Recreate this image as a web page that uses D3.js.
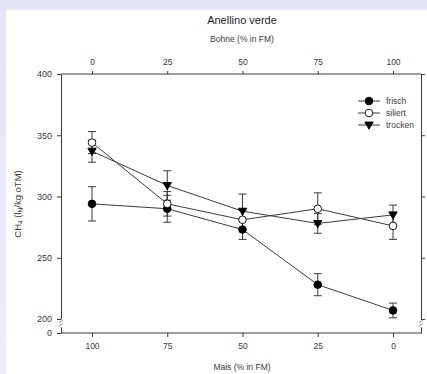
<!DOCTYPE html>
<html>
<head>
<meta charset="utf-8">
<script src="https://cdn.jsdelivr.net/npm/d3@7"></script>
<style>
  html, body { margin: 0; padding: 0; }
  body { width: 427px; height: 374px; overflow: hidden;
    background: linear-gradient(180deg, #e4e4fa 0%, #ececfb 100%); }
  svg { display: block; font-family: "Liberation Sans", Arial, sans-serif; }
</style>
</head>
<body>
<svg id="chart" width="427" height="374"></svg>
<script>
// Mais share (bottom axis) and Bohne share (top axis)
const maisShare = [100, 75, 50, 25, 0];
const bohneTicks = [0, 25, 50, 75, 100];
const yTicks = [200, 250, 300, 350, 400];

const frisch = [294, 290, 273, 228, 207];
const frischErr = [14, 11, 8, 9, 6];
const siliert = [344, 294, 281, 290, 276];
const siliertErr = [9, 10, 8, 13, 11];
const trocken = [337, 309, 288, 278, 285];
const trockenErr = [9, 12, 14, 8, 8];

const series = [
  { name: "frisch", values: frisch, err: frischErr, symbol: "circle", fill: "#000" },
  { name: "siliert", values: siliert, err: siliertErr, symbol: "circle", fill: "#fff" },
  { name: "trocken", values: trocken, err: trockenErr, symbol: "triangle", fill: "#000" },
];

const svg = d3.select("#chart");
const ink = "#3a3a3a";
const plotLeft = 61, plotRight = 421, plotTop = 74, plotBottom = 333;

svg.append("rect")
  .attr("x", 6).attr("y", 10)
  .attr("width", 427).attr("height", 374)
  .attr("fill", "#fff");

const x = d3.scaleLinear().domain([100, 0]).range([92, 393]);
const xTop = d3.scaleLinear().domain([0, 100]).range([92, 393]);
const y = d3.scaleLinear().domain([200, 400]).range([319, plotTop]);
// short segment below the axis break
const yLow = d3.scaleLinear().domain([0, 10]).range([plotBottom, plotBottom - 6]);

const styleAxis = (size) => (g) => {
  g.selectAll("path, line").attr("stroke", ink).attr("stroke-width", 1);
  g.selectAll("text").attr("fill", ink).attr("font-size", size)
    .attr("font-family", "Liberation Sans, Arial, sans-serif");
};

// frame lines
svg.append("line").attr("x1", plotLeft).attr("x2", plotRight)
  .attr("y1", plotBottom).attr("y2", plotBottom).attr("stroke", ink);
svg.append("line").attr("x1", plotLeft).attr("x2", plotRight)
  .attr("y1", plotTop).attr("y2", plotTop).attr("stroke", ink);

// bottom axis
svg.append("g").attr("transform", `translate(0,${plotBottom})`)
  .call(d3.axisBottom(x).tickValues(maisShare).tickSize(4).tickPadding(6))
  .call((g) => g.select(".domain").remove())
  .call(styleAxis(8.5));

// top axis
svg.append("g").attr("transform", `translate(0,${plotTop})`)
  .call(d3.axisTop(xTop).tickValues(bohneTicks).tickSize(3).tickPadding(6))
  .call((g) => g.select(".domain").remove())
  .call(styleAxis(8.5));

// left axis: upper part and lower part
svg.append("g").attr("transform", `translate(${plotLeft},0)`)
  .call(d3.axisLeft(y).tickValues(yTicks).tickSize(4).tickSizeOuter(0).tickPadding(5))
  .call(styleAxis(9));
svg.append("g").attr("transform", `translate(${plotLeft},0)`)
  .call(d3.axisLeft(yLow).tickValues([0]).tickSize(4).tickSizeOuter(0).tickPadding(5))
  .call(styleAxis(9));

// right axis
svg.append("g").attr("transform", `translate(${plotRight},0)`)
  .call(d3.axisRight(y).tickValues(yTicks).tickSize(4).tickSizeOuter(0).tickFormat(""))
  .call(styleAxis(9));
svg.append("g").attr("transform", `translate(${plotRight},0)`)
  .call(d3.axisRight(yLow).tickValues([0]).tickSize(0).tickSizeOuter(0).tickFormat(""))
  .call(styleAxis(9));

// axis break marks
[plotLeft, plotRight].forEach((bx) => {
  const g = svg.append("g");
  g.append("rect").attr("x", bx - 2).attr("y", 321).attr("width", 4).attr("height", 5)
    .attr("fill", "#fff");
  [0, 3].forEach((dy) => {
    g.append("line").attr("x1", bx - 2).attr("x2", bx + 2)
      .attr("y1", 322.5 + dy).attr("y2", 320.5 + dy)
      .attr("stroke", "#777").attr("stroke-width", 0.8);
  });
});

// lines
const line = d3.line().x((d, i) => x(maisShare[i])).y((d) => y(d));
series.forEach((s) => {
  svg.append("path").datum(s.values).attr("d", line)
    .attr("fill", "none").attr("stroke", ink).attr("stroke-width", 1);
});

// error bars
series.forEach((s) => {
  const g = svg.append("g");
  s.values.forEach((v, i) => {
    const cx = x(maisShare[i]);
    const y1 = y(v - s.err[i]), y2 = y(v + s.err[i]);
    g.append("line").attr("x1", cx).attr("x2", cx).attr("y1", y1).attr("y2", y2)
      .attr("stroke", ink);
    [y1, y2].forEach((cy) => {
      g.append("line").attr("x1", cx - 4).attr("x2", cx + 4).attr("y1", cy).attr("y2", cy)
        .attr("stroke", ink);
    });
  });
});

// markers
const symbolPath = (s) => s.symbol === "circle"
  ? d3.symbol(d3.symbolCircle, 46)()
  : "M-4.2,-3L4.2,-3L0,4.2Z";
series.forEach((s) => {
  svg.append("g").selectAll("path").data(s.values).join("path")
    .attr("d", symbolPath(s))
    .attr("transform", (d, i) => `translate(${x(maisShare[i])},${y(d)})`)
    .attr("fill", s.fill).attr("stroke", "#000").attr("stroke-width", 0.9);
});

// legend
const legend = svg.append("g").attr("transform", "translate(358,101)");
series.forEach((s, i) => {
  const g = legend.append("g").attr("transform", `translate(0,${i * 12})`);
  g.append("line").attr("x1", 0).attr("x2", 22).attr("stroke", ink);
  g.append("path").attr("d", symbolPath(s)).attr("transform", "translate(11,0)")
    .attr("fill", s.fill).attr("stroke", "#000").attr("stroke-width", 0.9);
  g.append("text").attr("x", 28).attr("dy", "0.35em").attr("font-size", 8.5)
    .attr("fill", ink).text(s.name);
});

// titles
svg.append("text").attr("x", 242).attr("y", 24).attr("text-anchor", "middle")
  .attr("font-size", 11).attr("fill", "#222").text("Anellino verde");
svg.append("text").attr("x", 242).attr("y", 42).attr("text-anchor", "middle")
  .attr("font-size", 8.5).attr("fill", ink).text("Bohne (% in FM)");
svg.append("text").attr("x", 242).attr("y", 370).attr("text-anchor", "middle")
  .attr("font-size", 8.5).attr("fill", ink).text("Mais (% in FM)");

// y label with subscripts
const yl = svg.append("text").attr("transform", "translate(21,204) rotate(-90)")
  .attr("text-anchor", "middle").attr("font-size", 9.5).attr("fill", ink);
yl.append("tspan").text("CH");
yl.append("tspan").attr("font-size", 6.5).attr("dy", 2).text("4");
yl.append("tspan").attr("dy", -2).text(" (l");
yl.append("tspan").attr("font-size", 6.5).attr("dy", 2).text("N");
yl.append("tspan").attr("dy", -2).text("/kg oTM)");
</script>
</body>
</html>
